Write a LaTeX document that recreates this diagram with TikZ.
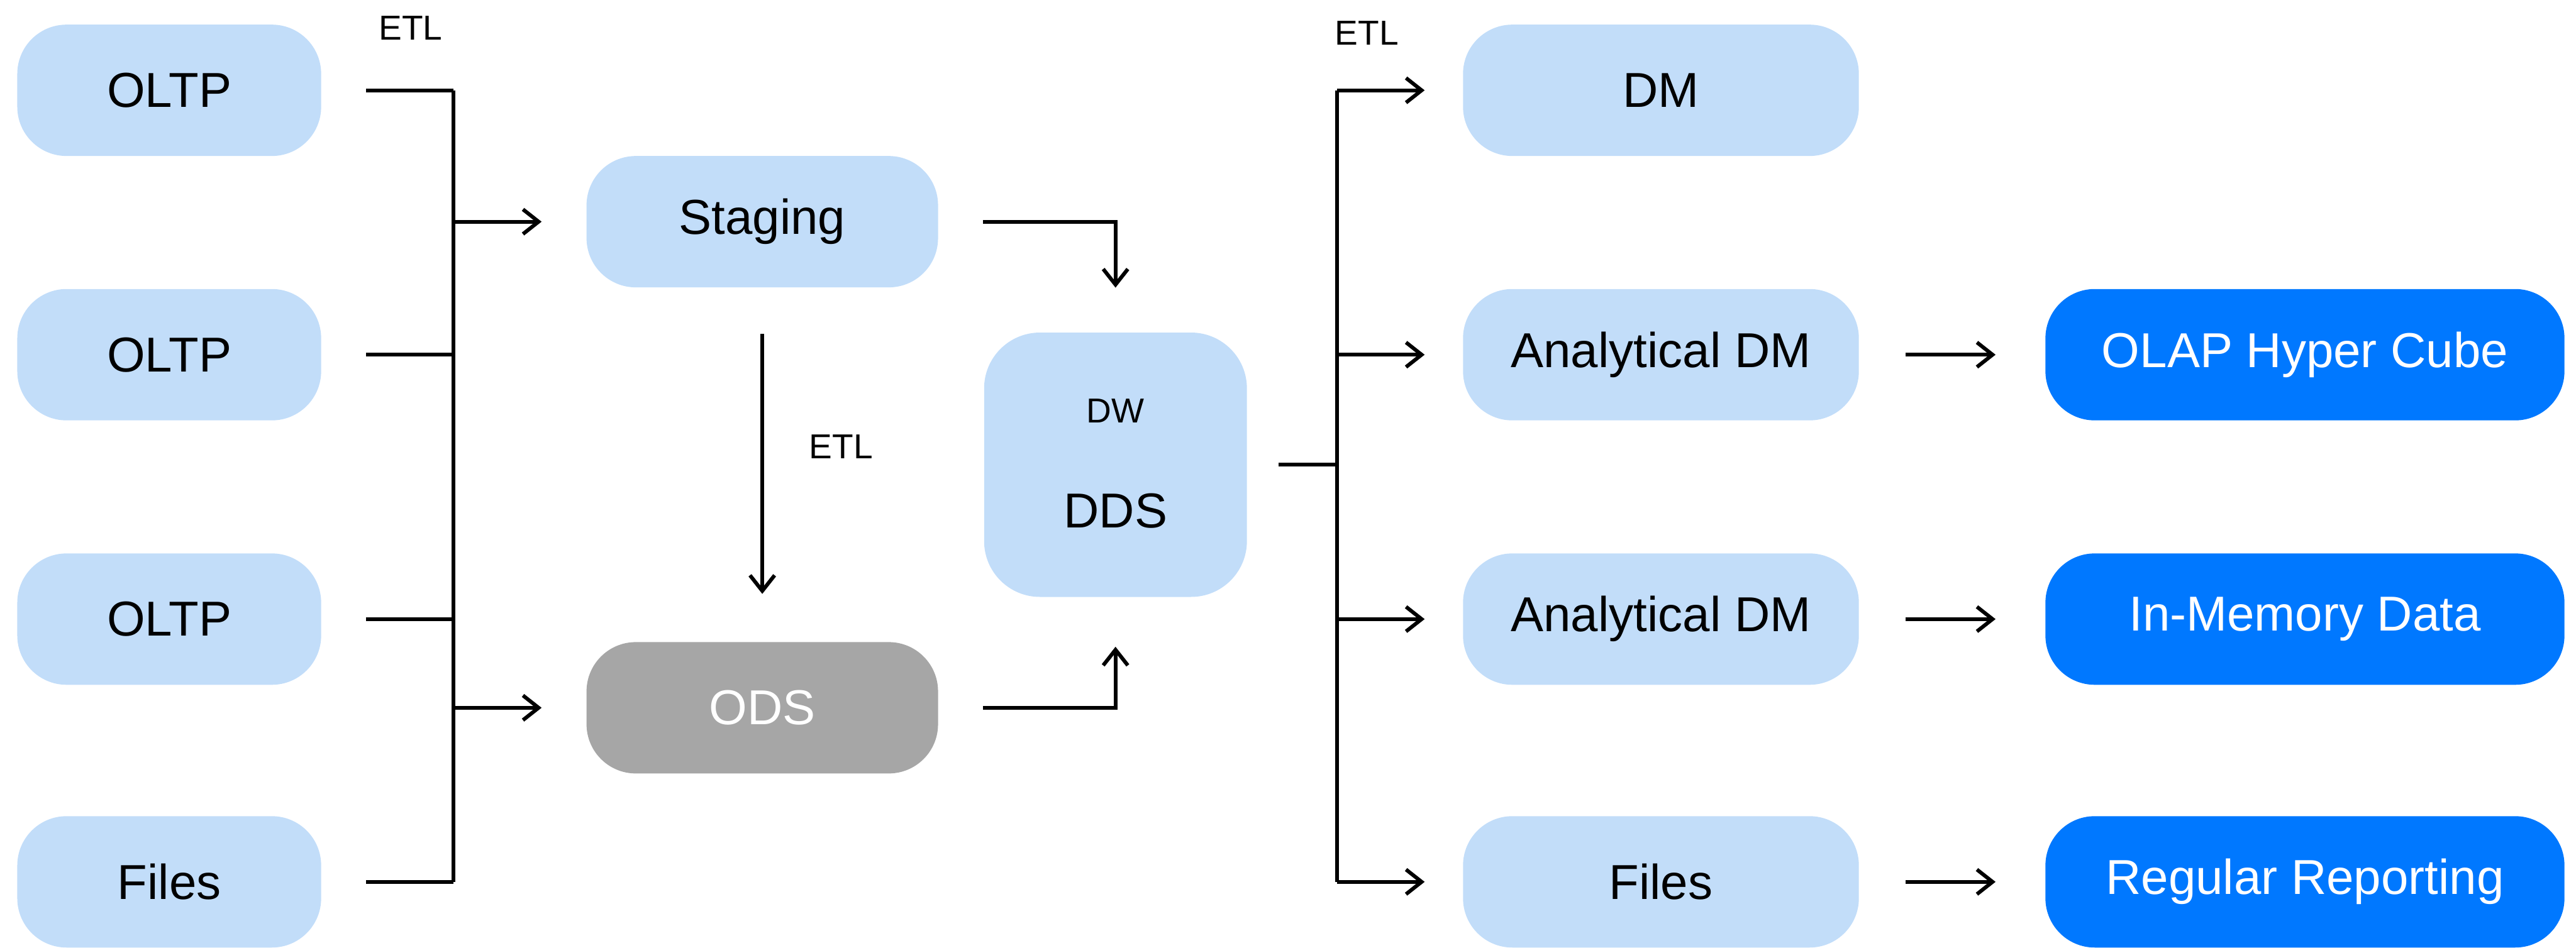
\documentclass[tikz,border=0pt]{standalone}
\usepackage{fontspec}
\setmainfont{Liberation Sans}
\usetikzlibrary{arrows.meta}
\definecolor{boxblue}{HTML}{C2DDF9}
\definecolor{deepblue}{HTML}{0078FF}
\definecolor{odsgray}{HTML}{A6A6A6}
\tikzset{
  base/.style={inner sep=0, rounded corners=0.6cm, minimum height=1.6cm, font=\fontsize{17}{20}\selectfont},
  src/.style={base, fill=boxblue, minimum width=3.7cm},
  mid/.style={base, fill=boxblue, minimum width=4.28cm},
  ods/.style={base, fill=odsgray, text=white, minimum width=4.28cm},
  dw/.style={base, fill=boxblue, rounded corners=0.68cm, minimum width=3.2cm, minimum height=3.22cm},
  mart/.style={base, fill=boxblue, minimum width=4.82cm},
  tool/.style={base, fill=deepblue, text=white, minimum width=6.32cm},
  lbl/.style={inner sep=0, font=\fontsize{12}{14}\selectfont},
  flow/.style={line width=1.3pt},
  >={Straight Barb[length=0.19cm, width=0.3cm]}
}
\begin{document}
\begin{tikzpicture}[x=0.02cm, y=-0.02cm]
   \useasboundingbox (0,0) rectangle (1568,577);
   % sources
   \node[src] (o1) at (103,55) {OLTP};
   \node[src] (o2) at (103,216) {OLTP};
   \node[src] (o3) at (103,377) {OLTP};
   \node[src] (f1) at (103,537) {Files};
   \node[lbl] (etl1) at (250,17) {ETL};
   \coordinate (busL) at (276,0);
   \foreach \s in {o1,o2,o3,f1}
      \draw[flow] ([xshift=0.54cm]\s.east) -- (\s -| busL);
   \draw[flow] (o1 -| busL) -- (f1 -| busL);
   % staging / ods
   \node[mid] (stg) at (464,135) {Staging};
   \node[ods] (ods) at (464,431) {ODS};
   \draw[flow, ->] (stg -| busL) -- ([xshift=-0.54cm]stg.west);
   \draw[flow, ->] (ods -| busL) -- ([xshift=-0.54cm]ods.west);
   \draw[flow, ->] ([yshift=-0.56cm]stg.south) -- ([yshift=0.58cm]ods.north);
   \node[lbl] (etl2) at (512,272) {ETL};
   % dw
   \node[dw] (dds) at (679,283) {};
   \node[lbl] (dwl) at (679,250) {DW};
   \node[base] (ddsl) at (679,311) {DDS};
   \draw[flow, ->] ([xshift=0.54cm]stg.east) -| ([yshift=0.54cm]dds.north);
   \draw[flow, ->] ([xshift=0.54cm]ods.east) -| ([yshift=-0.6cm]dds.south);
   % marts
   \node[mart] (dm) at (1011,55) {DM};
   \node[mart] (ad1) at (1011,216) {Analytical DM};
   \node[mart] (ad2) at (1011,377) {Analytical DM};
   \node[mart] (rf) at (1011,537) {Files};
   \node[lbl] (etl3) at (832,20) {ETL};
   \coordinate (busR) at (814,0);
   \draw[flow] ([xshift=0.38cm]dds.east) -- (dds -| busR);
   \draw[flow] (dm -| busR) -- (rf -| busR);
   \foreach \m in {dm,ad1,ad2,rf}
      \draw[flow, ->] (\m -| busR) -- ([xshift=-0.46cm]\m.west);
   % front end
   \node[tool] (olap) at (1403,216) {OLAP Hyper Cube};
   \node[tool] (imd) at (1403,377) {In-Memory Data};
   \node[tool] (rep) at (1403,537) {Regular Reporting};
   \draw[flow, ->] ([xshift=0.56cm]ad1.east) -- ([xshift=-0.6cm]olap.west);
   \draw[flow, ->] ([xshift=0.56cm]ad2.east) -- ([xshift=-0.6cm]imd.west);
   \draw[flow, ->] ([xshift=0.56cm]rf.east) -- ([xshift=-0.6cm]rep.west);
\end{tikzpicture}
\end{document}
